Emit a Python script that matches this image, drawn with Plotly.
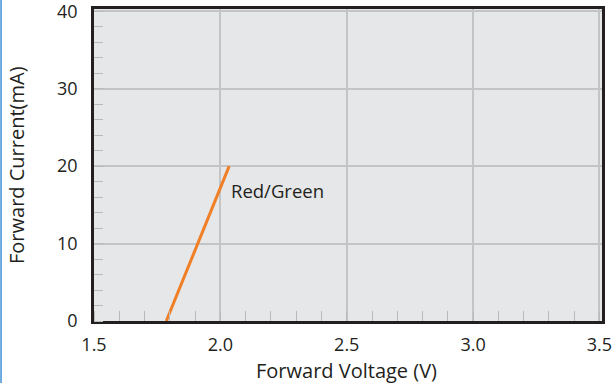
import plotly.graph_objects as go

# Data
voltage = [1.786, 2.035]
current = [0, 20]
series_label = "Red/Green"
x_ticks = [1.5, 2.0, 2.5, 3.0, 3.5]
x_tick_text = ["1.5", "2.0", "2.5", "3.0", "3.5"]
y_ticks = [0, 10, 20, 30, 40]
y_tick_text = ["0", "10", "20", "30", "40"]
x_title = "Forward Voltage (V)"
y_title = "Forward Current(mA)"

FONT = "Open Sans"
DARK = "#231f20"

fig = go.Figure()
fig.add_trace(go.Scatter(
    x=voltage, y=current, mode="lines",
    line=dict(color="#f07f26", width=3),
    showlegend=False, hoverinfo="skip",
))

fig.add_annotation(
    x=voltage[1], y=current[1] - 3.15, text=series_label, showarrow=False,
    xanchor="left", yanchor="middle",
    font=dict(family=FONT, size=18.5, color=DARK),
)

# axis titles
fig.add_annotation(
    xref="paper", yref="paper", x=0.497, y=0, yshift=-49,
    text=x_title, showarrow=False, xanchor="center", yanchor="middle",
    font=dict(family=FONT, size=20, color=DARK),
)
fig.add_annotation(
    xref="paper", yref="paper", x=0, y=0.5, xshift=-78,
    text=y_title, showarrow=False, textangle=-90, xanchor="center", yanchor="middle",
    font=dict(family=FONT, size=20, color=DARK),
)

# blue frame line at far left of image
fig.add_shape(type="line", xref="paper", yref="paper",
              x0=-0.183, x1=-0.183, y0=-0.2, y1=1.05,
              line=dict(color="#3d8fd6", width=1.5))

fig.update_xaxes(
    range=[1.5, 3.51], tickvals=x_ticks, ticktext=x_tick_text,
    showgrid=True, gridcolor="#c3c4c6", gridwidth=1.5,
    showline=True, linecolor=DARK, linewidth=2.5, mirror=True,
    ticks="", zeroline=False, ticklabelstandoff=6, ticklabeloverflow="allow",
    automargin=False,
    minor=dict(dtick=0.1, ticks="inside", ticklen=10, tickcolor="#b9babc",
               tickwidth=1.2, showgrid=False),
    tickfont=dict(family=FONT, size=18, color=DARK),
)
fig.update_yaxes(
    range=[0, 40.3], tickvals=y_ticks, ticktext=y_tick_text,
    showgrid=True, gridcolor="#c3c4c6", gridwidth=1.5,
    showline=True, linecolor=DARK, linewidth=2.5, mirror=True,
    ticks="", zeroline=False, ticklabelstandoff=10, ticklabeloverflow="allow",
    automargin=False,
    minor=dict(dtick=2, ticks="inside", ticklen=9, tickcolor="#b9babc",
               tickwidth=1.2, showgrid=False),
    tickfont=dict(family=FONT, size=18, color=DARK),
)

fig.update_layout(
    width=613, height=383,
    margin=dict(l=94, r=11, t=9, b=62),
    paper_bgcolor="white", plot_bgcolor="#e6e7e9",
    font=dict(family=FONT),
)

fig.write_html("out.html", config={"displayModeBar": False})
